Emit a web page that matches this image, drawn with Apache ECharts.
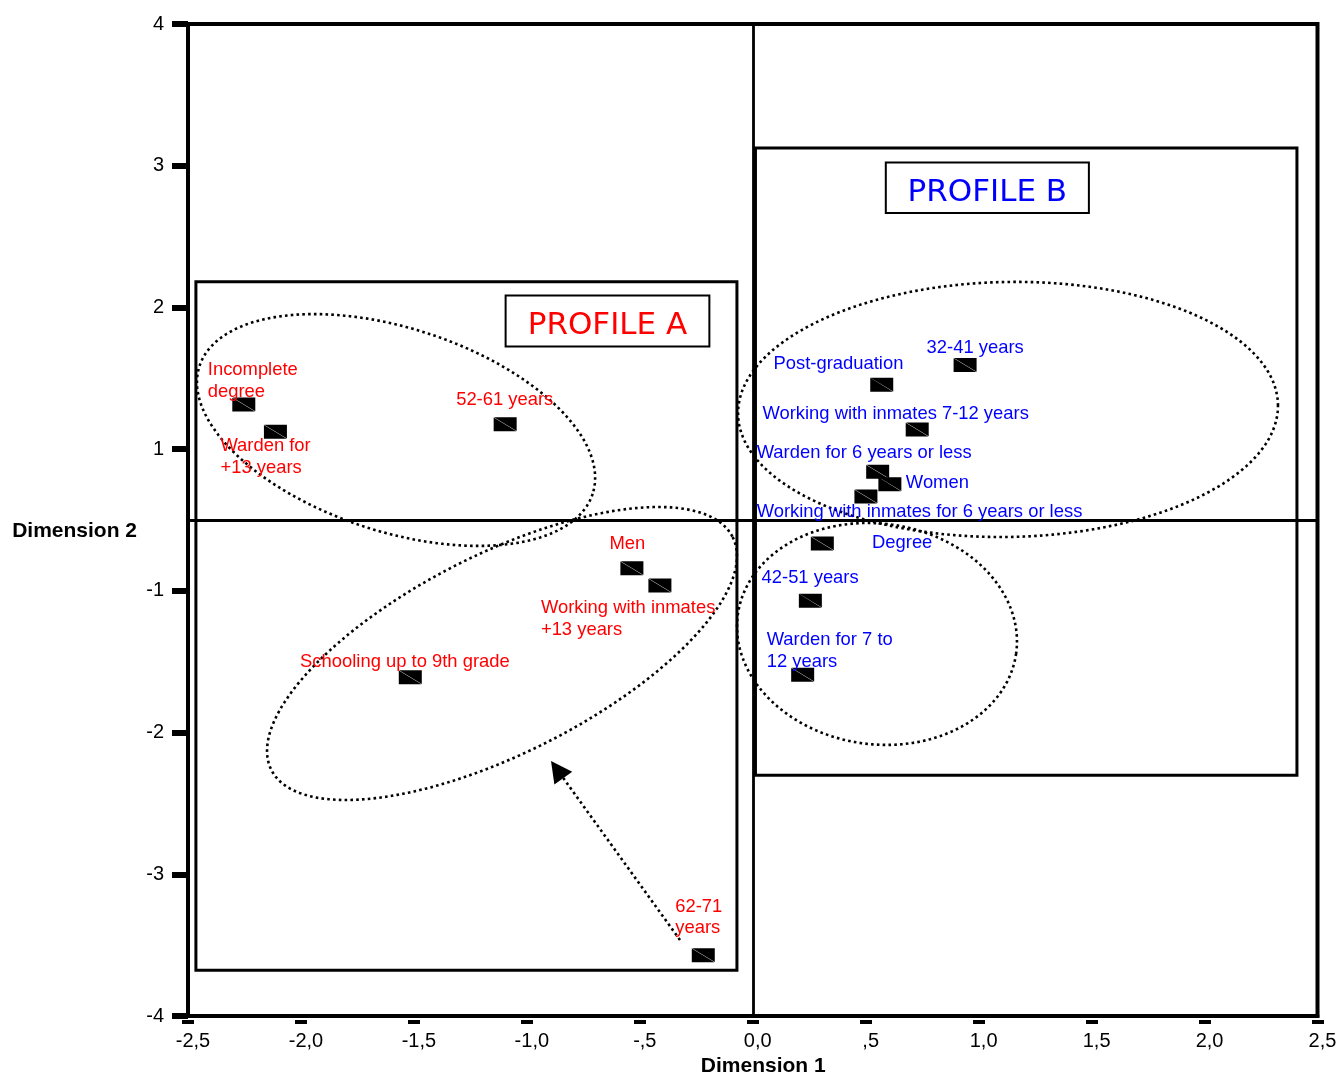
<!DOCTYPE html>
<html><head><meta charset="utf-8">
<script src="https://cdn.jsdelivr.net/npm/echarts@6/dist/echarts.min.js"></script>
<style>html,body{margin:0;padding:0;background:#fff}#c{width:1342px;height:1073px}</style>
</head><body><div id="c"></div>
<script>
// ---- data ----
const namesA = ['Incomplete\ndegree', 'Warden for\n+13 years', '52-61 years', 'Men', 'Working with inmates\n+13 years', 'Schooling up to 9th grade', '62-71\nyears'];
const xA = [-2.253, -2.113, -1.096, -0.535, -0.411, -1.516, -0.219];
const yA = [0.815, 0.623, 0.676, -0.341, -0.462, -1.110, -3.071];

const namesB = ['Post-graduation', '32-41 years', 'Working with inmates 7-12 years', 'Warden for 6 years or less', 'Women', 'Working with inmates for 6 years or less', 'Degree', '42-51 years', 'Warden for 7 to\n12 years'];
const xB = [0.571, 0.940, 0.728, 0.553, 0.607, 0.501, 0.308, 0.255, 0.221];
const yB = [0.955, 1.094, 0.639, 0.341, 0.253, 0.166, -0.166, -0.569, -1.092];

const xTickLabels = ['-2,5', '-2,0', '-1,5', '-1,0', '-,5', '0,0', ',5', '1,0', '1,5', '2,0', '2,5'];
const yTickValues = [-3.5, -2.5, -1.5, -0.5, 0.5, 1.5, 2.5, 3.5];
const yTickLabels = ['-4', '-3', '-2', '-1', '1', '2', '3', '4'];

// ---- label placement (px, relative to marker centre) ----
const offA = [[-36, -25.2], [-55, 23.8], [-49, -26.2], [-22.5, -26.2], [-119, 32], [-110.2, -16.8], [-28, -39.2]];
const offB = [[-108.2, -22.6], [-38.5, -18.5], [-154.8, -17.4], [-121, -20.2], [16, -3.1], [-109.3, 14], [49.7, -2.4], [-48.8, -24.2], [-36, -25.2]];

const FONT = 'Liberation Sans, Arial, sans-serif';
const SYM = 'path://M0.3,0L23,0L23,13.8ZM0,0.2L22.7,14L0,14Z';
const SW = 23, SH = 14;

function mk(names, xs, ys, offs) {
  return xs.map((x, i) => ({
    name: names[i], value: [x, ys[i]],
    label: { position: [offs[i][0] + SW / 2, offs[i][1] + SH / 2 + 1.5] }
  }));
}
function labelStyle(color) {
  return { show: true, formatter: '{b}', color: color, fontSize: 18.4, fontFamily: FONT,
           align: 'left', verticalAlign: 'middle', lineHeight: 21.5, opacity: 1 };
}

const chart = echarts.init(document.getElementById('c'), null, { renderer: 'canvas' });
chart.setOption({
  animation: false,
  backgroundColor: '#fff',
  textStyle: { fontFamily: FONT },
  grid: { left: 188, right: 24.5, top: 24, bottom: 57, show: true, borderColor: '#000', borderWidth: 4,
          containLabel: false, outerBoundsMode: 'none' },
  xAxis: [{
    type: 'value', min: -2.5, max: 2.5, interval: 0.5,
    axisLine: { show: true, onZero: false, lineStyle: { color: '#000', width: 4 } },
    axisTick: { show: false }, splitLine: { show: false },
    axisLabel: { fontSize: 20, color: '#000', fontFamily: FONT, margin: 15, padding: [0, 0, 0, 10],
                 formatter: v => xTickLabels[Math.round((v + 2.5) / 0.5)] },
    name: 'Dimension 1', nameLocation: 'middle', nameGap: 38,
    nameTextStyle: { fontSize: 21, fontWeight: 'bold', color: '#000', fontFamily: FONT, padding: [0, 0, 0, 21] }
  }, {
    type: 'value', min: -2.5, max: 2.5, interval: 0.5, position: 'bottom', offset: 4,
    axisLine: { show: false, onZero: false }, axisLabel: { show: false }, splitLine: { show: false },
    axisTick: { show: true, length: 4, lineStyle: { color: '#000', width: 12 } }
  }],
  yAxis: {
    type: 'value', min: -3.5, max: 3.5,
    axisLine: { show: true, onZero: false, lineStyle: { color: '#000', width: 4 } },
    axisTick: { show: true, length: 16, customValues: yTickValues, lineStyle: { color: '#000', width: 6 } },
    axisLabel: { customValues: yTickValues, fontSize: 20, color: '#000', fontFamily: FONT, margin: 24,
                 formatter: v => yTickLabels[yTickValues.indexOf(v)] },
    splitLine: { show: false },
    name: 'Dimension 2', nameLocation: 'middle', nameRotate: 0, nameGap: 51,
    nameTextStyle: { fontSize: 21, fontWeight: 'bold', color: '#000', fontFamily: FONT,
                     verticalAlign: 'top', padding: [1, 0, 0, 0] }
  },
  series: [{
    type: 'scatter', name: 'Profile A', xAxisIndex: 0, yAxisIndex: 0,
    symbol: SYM, symbolSize: [SW, SH], itemStyle: { color: '#000', opacity: 1 },
    label: labelStyle('#ff0000'), emphasis: { disabled: true }, z: 5,
    data: mk(namesA, xA, yA, offA),
    markLine: { silent: true, symbol: 'none', label: { show: false },
                lineStyle: { color: '#000', width: 2.8, type: 'solid', opacity: 1 },
                data: [{ xAxis: 0 }, { yAxis: 0 }] }
  }, {
    type: 'scatter', name: 'Profile B', xAxisIndex: 0, yAxisIndex: 0,
    symbol: SYM, symbolSize: [SW, SH], itemStyle: { color: '#000', opacity: 1 },
    label: labelStyle('#0000ff'), emphasis: { disabled: true }, z: 5,
    data: mk(namesB, xB, yB, offB)
  }]
});

// ---- annotations (data-space anchors) ----
const P = (x, y) => chart.convertToPixel({ xAxisIndex: 0, yAxisIndex: 0 }, [x, y]);
const profileRects = [
  { x1: -2.465, y1: 1.681, x2: -0.070, y2: -3.178 },
  { x1: 0.012, y1: 2.625, x2: 2.409, y2: -1.801 }
];
const titleBoxes = [
  { x1: -1.094, y1: 1.584, x2: -0.192, y2: 1.224, text: 'PROFILE A', color: '#ff0000' },
  { x1: 0.589, y1: 2.523, x2: 1.488, y2: 2.166, text: 'PROFILE B', color: '#0000ff' }
];
const ellipses = [
  { c: [-1.579, 0.635], a: 206.7, b: 101.7, rot: 18 },
  { c: [-1.110, -0.942], a: 258.4, b: 99.5, rot: -26.8 },
  { c: [1.130, 0.780], a: 270, b: 127.5, rot: -1 },
  { c: [0.550, -0.804], a: 140.5, b: 110.3, rot: 8 }
];
const arrow = { from: [-0.322, -2.964], to: [-0.893, -1.701] };

const g = [];
profileRects.forEach(r => {
  const p1 = P(r.x1, r.y1), p2 = P(r.x2, r.y2);
  g.push({ type: 'rect', z: 1, shape: { x: p1[0], y: p1[1], width: p2[0] - p1[0], height: p2[1] - p1[1] },
           style: { fill: 'none', stroke: '#000', lineWidth: 3 } });
});
ellipses.forEach(e => {
  const c = P(e.c[0], e.c[1]);
  const th = e.rot * Math.PI / 180, pts = [];
  for (let k = 0; k < 240; k++) {
    const t = k / 240 * Math.PI * 2;
    pts.push([c[0] + e.a * Math.cos(t) * Math.cos(th) - e.b * Math.sin(t) * Math.sin(th),
              c[1] + e.a * Math.cos(t) * Math.sin(th) + e.b * Math.sin(t) * Math.cos(th)]);
  }
  g.push({ type: 'polygon', z: 1, shape: { points: pts },
           style: { fill: 'none', stroke: '#000', lineWidth: 2.6, lineDash: [2.6, 3.2] } });
});
(function () {
  const s = P(arrow.from[0], arrow.from[1]), t = P(arrow.to[0], arrow.to[1]);
  const dx = t[0] - s[0], dy = t[1] - s[1], L = Math.hypot(dx, dy);
  const ux = dx / L, uy = dy / L, hl = 21, hw = 11;
  const bx = t[0] - ux * hl, by = t[1] - uy * hl;
  g.push({ type: 'line', z: 1, shape: { x1: s[0], y1: s[1], x2: bx, y2: by },
           style: { stroke: '#000', lineWidth: 2.6, lineDash: [2.6, 3.2] } });
  g.push({ type: 'polygon', z: 1, shape: { points: [[t[0], t[1]], [bx - uy * hw, by + ux * hw], [bx + uy * hw, by - ux * hw]] },
           style: { fill: '#000', stroke: 'none' } });
})();
titleBoxes.forEach(b => {
  const p1 = P(b.x1, b.y1), p2 = P(b.x2, b.y2);
  g.push({ type: 'rect', z: 3, shape: { x: p1[0], y: p1[1], width: p2[0] - p1[0], height: p2[1] - p1[1] },
           style: { fill: '#fff', stroke: '#000', lineWidth: 2 } });
  g.push({ type: 'text', z: 4, x: (p1[0] + p2[0]) / 2, y: (p1[1] + p2[1]) / 2 + 5,
           style: { text: b.text, fill: b.color, font: '31px "DejaVu Sans", Verdana, sans-serif',
                    align: 'center', verticalAlign: 'middle' } });
});
chart.setOption({ graphic: g });
</script></body></html>
